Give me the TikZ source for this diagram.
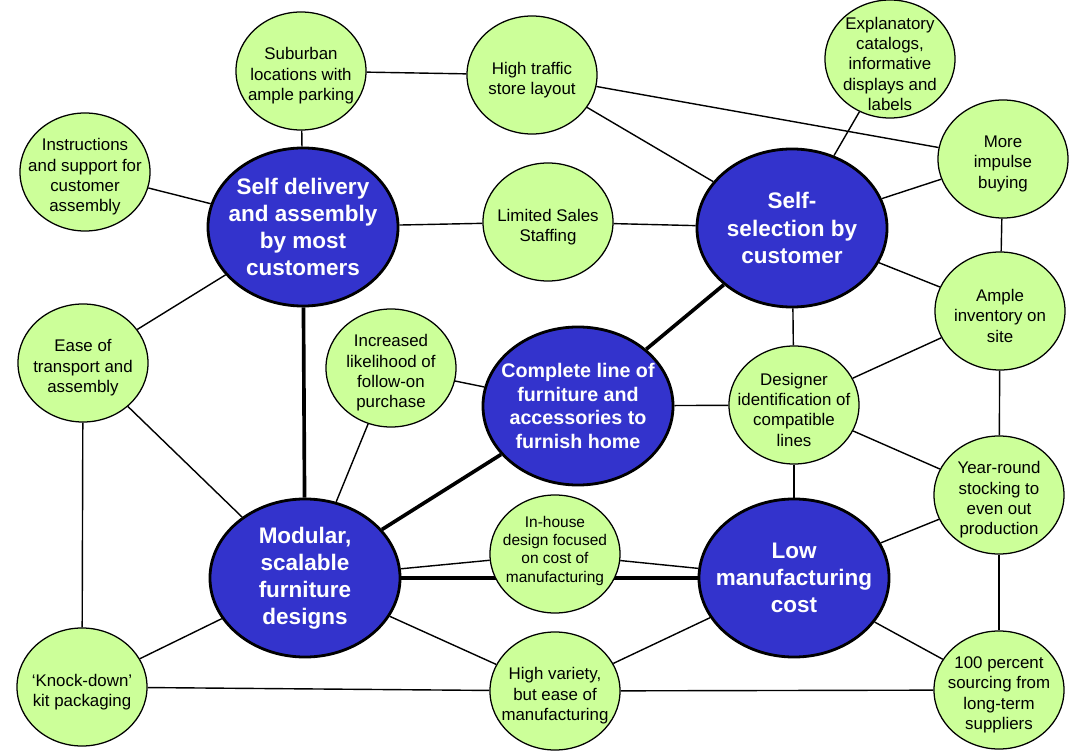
\documentclass[tikz,border=0pt]{standalone}
\usepackage{fontspec}
\setmainfont{Liberation Sans}
\usetikzlibrary{shapes.geometric,backgrounds}

\definecolor{bubgreen}{HTML}{CCFF99}
\definecolor{hubblue}{HTML}{3333CC}

\tikzset{
    bub/.style={ellipse, draw, fill=bubgreen, line width=0.9pt,
        minimum width=3.25cm, minimum height=2.95cm, inner sep=0pt},
    hub/.style={ellipse, draw, fill=hubblue, line width=2pt,
        minimum width=4.75cm, minimum height=3.95cm, inner sep=0pt},
    btxt/.style={align=center, yshift=-0.12cm, font=\fontsize{12}{14.4}\selectfont},
    htxt/.style={align=center, text=white, font=\fontsize{16}{19.3}\selectfont\bfseries},
    link/.style={line width=1pt},
    strong/.style={line width=2.6pt}
}

\begin{document}
\begin{tikzpicture}[x=0.025cm, y=-0.025cm]
    \useasboundingbox (0,0) rectangle (1080,754);
    % hubs
    \node[hub, label={[htxt]center:Self delivery\\and assembly\\by most\\customers}] (deliv) at (303,227) {};
    \node[hub, label={[htxt]center:Self-\\selection by\\customer}] (select) at (792,228) {};
    \node[hub, label={[htxt, font=\fontsize{14}{16.9}\selectfont\bfseries]center:Complete line of\\furniture and\\accessories to\\furnish home}] (range) at (578,406) {};
    \node[hub, label={[htxt]center:Modular,\\scalable\\furniture\\designs}] (modular) at (305,578) {};
    \node[hub, label={[htxt]center:Low\\manufacturing\\cost}] (lowcost) at (794,578) {};
    % bubbles
    \node[bub, label={[btxt]center:Suburban\\locations with\\ample parking}] (suburb) at (301,71) {};
    \node[bub, label={[btxt]center:High traffic\\store layout}] (traffic) at (532,75) {};
    \node[bub, label={[btxt]center:Explanatory\\catalogs,\\informative\\displays and\\labels}] (catalog) at (890,59) {};
    \node[bub, label={[btxt]center:Instructions\\and support for\\customer\\assembly}] (instruct) at (85,172) {};
    \node[bub, label={[btxt]center:Limited Sales\\Staffing}] (staff) at (548,222) {};
    \node[bub, label={[btxt]center:More\\impulse\\buying}] (impulse) at (1003,159) {};
    \node[bub, label={[btxt]center:Ample\\inventory on\\site}] (inventory) at (1000,311) {};
    \node[bub, label={[btxt]center:Ease of\\transport and\\assembly}] (ease) at (83,363) {};
    \node[bub, label={[btxt]center:Increased\\likelihood of\\follow-on\\purchase}] (followon) at (391,368) {};
    \node[bub, label={[btxt]center:Designer\\identification of\\compatible\\lines}] (designer) at (794,405) {};
    \node[bub, label={[btxt]center:Year-round\\stocking to\\even out\\production}] (yearround) at (999,495) {};
    \node[bub, label={[btxt, yshift=0.2cm, font=\fontsize{11}{12.9}\selectfont]center:In-house\\design focused\\on cost of\\manufacturing}] (inhouse) at (555,554) {};
    \node[bub, label={[btxt]center:High variety,\\but ease of\\manufacturing}] (variety) at (555,691) {};
    \node[bub, label={[btxt]center:‘Knock-down’\\kit packaging}] (knockdown) at (82,687) {};
    \node[bub, label={[btxt]center:100 percent\\sourcing from\\long-term\\suppliers}] (sourcing) at (999,690) {};

    \begin{scope}[on background layer]
        % strong ties
        \draw[strong] (deliv) -- (modular);
        \draw[strong] (range) -- (select);
        \draw[strong] (range) -- (modular);
        \draw[strong] (modular) -- (lowcost);
        % other ties
        \draw[link] (suburb) -- (traffic);
        \draw[link] (suburb) -- (deliv);
        \draw[link] (instruct) -- (deliv);
        \draw[link] (deliv) -- (staff);
        \draw[link] (staff) -- (select);
        \draw[link] (traffic) -- (select);
        \draw[link] (traffic) -- (impulse);
        \draw[link] (catalog) -- (select);
        \draw[link] (select) -- (impulse);
        \draw[link] (impulse) -- (inventory);
        \draw[link] (select) -- (inventory);
        \draw[link] (select) -- (designer);
        \draw[link] (inventory) -- (designer);
        \draw[link] (inventory) -- (yearround);
        \draw[link] (designer) -- (yearround);
        \draw[link] (designer) -- (lowcost);
        \draw[link] (range) -- (designer);
        \draw[link] (followon) -- (range);
        \draw[link] (followon) -- (modular);
        \draw[link] (ease) -- (deliv);
        \draw[link] (ease) -- (modular);
        \draw[link] (ease) -- (knockdown);
        \draw[link] (knockdown) -- (modular);
        \draw[link] (knockdown) -- (variety);
        \draw[link] (variety) -- (sourcing);
        \draw[link] (modular) -- (variety);
        \draw[link] (variety) -- (lowcost);
        \draw[link] (modular) -- (inhouse);
        \draw[link] (inhouse) -- (lowcost);
        \draw[link] (lowcost) -- (yearround);
        \draw[link] (lowcost) -- (sourcing);
        \draw[link] (yearround) -- (sourcing);
    \end{scope}
\end{tikzpicture}
\end{document}
